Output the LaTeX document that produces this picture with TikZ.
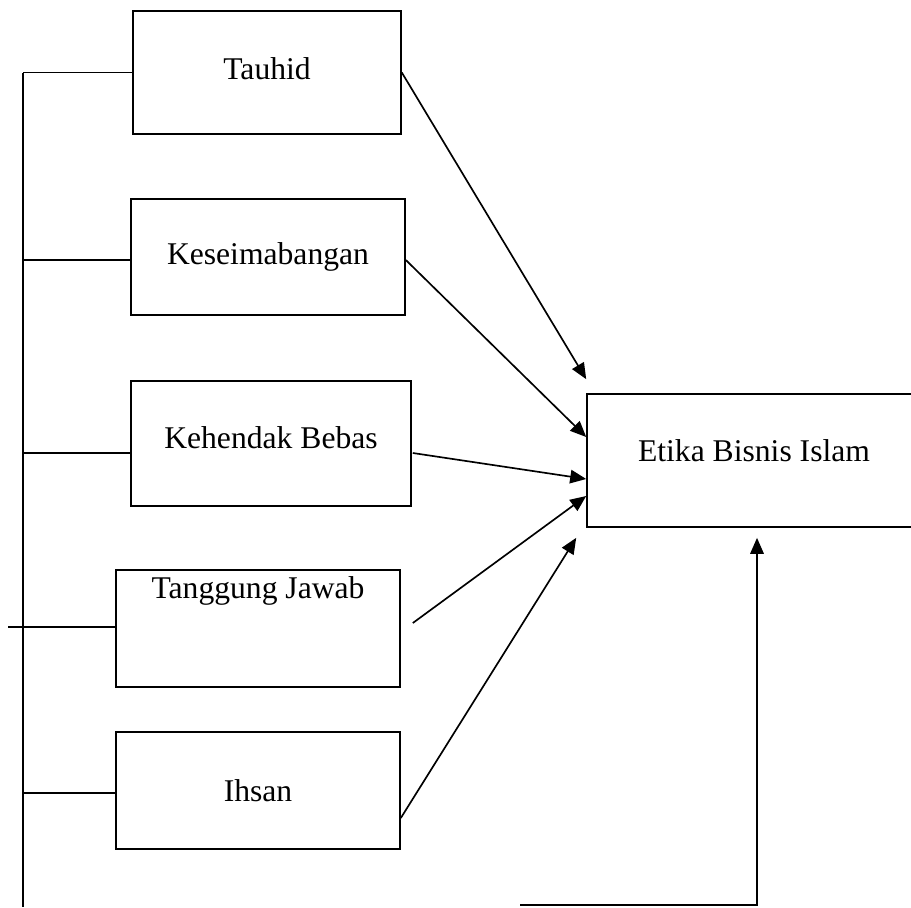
\documentclass[tikz,border=0pt]{standalone}
\usepackage{fontspec}
\setmainfont{Liberation Serif}
\usetikzlibrary{arrows.meta}

\begin{document}
\begin{tikzpicture}[
    x=0.02cm, y=-0.02cm,
    mybox/.style={draw, rectangle, line width=0.95pt, inner sep=0pt, font=\fontsize{18}{22}\selectfont},
    mytext/.style={inner sep=0pt, font=\fontsize{18}{22}\selectfont},
    >={Triangle[length=0.32cm, width=0.27cm]},
    line width=0.95pt
    ]

    \useasboundingbox (0,0) rectangle (911,907);

    \node[mybox, minimum width=5.36cm, minimum height=2.46cm, text depth=0.16cm] (tauhid) at (267,72.5) {Tauhid};
    \node[mybox, minimum width=5.48cm, minimum height=2.32cm] (kes) at (268,257) {Keseimabangan};
    \node[mybox, minimum width=5.6cm, minimum height=2.5cm, text depth=0.24cm] (kb) at (271,443.5) {Kehendak Bebas};
    \node[mybox, minimum width=5.68cm, minimum height=2.34cm] (tj) at (258,628.5) {};
    \node[mytext] (tjtext) at (258,591) {Tanggung Jawab};
    \node[mybox, minimum width=5.68cm, minimum height=2.34cm] (ihsan) at (258,790.5) {Ihsan};
    \node[mybox, minimum width=6.68cm, minimum height=2.66cm, text depth=0.4cm] (etika) at (754,460.5) {Etika Bisnis Islam};

    \coordinate (bustop) at (23,73);
    \coordinate (busbot) at (23,907);
    \coordinate (tjend) at (8,627);
    \coordinate (fend) at (520,905);

    \draw (bustop) -- (busbot);
    \draw (tauhid.west) -- (tauhid.west -| bustop);
    \draw ([yshift=-0.06cm]kes.west) -- ([yshift=-0.06cm]kes.west -| bustop);
    \draw ([yshift=-0.19cm]kb.west) -- ([yshift=-0.19cm]kb.west -| bustop);
    \draw ([yshift=0.03cm]tj.west) -- (tjend);
    \draw ([yshift=-0.05cm]ihsan.west) -- ([yshift=-0.05cm]ihsan.west -| bustop);

    \draw[->] (tauhid.east) -- ([yshift=0.28cm]etika.north west);
    \draw[->] ([yshift=-0.06cm]kes.east) -- ([yshift=0.47cm]etika.west);
    \draw[->] ([xshift=0.02cm, yshift=-0.19cm]kb.east) -- ([yshift=-0.37cm]etika.west);
    \draw[->] ([xshift=0.24cm, yshift=0.11cm]tj.east) -- ([yshift=-0.71cm]etika.west);
    \draw[->] ([yshift=-0.55cm]ihsan.east) -- ([xshift=-0.2cm, yshift=-0.2cm]etika.south west);
    \draw[->] (fend) -| ([xshift=0.06cm, yshift=-0.2cm]etika.south);

\end{tikzpicture}
\end{document}
